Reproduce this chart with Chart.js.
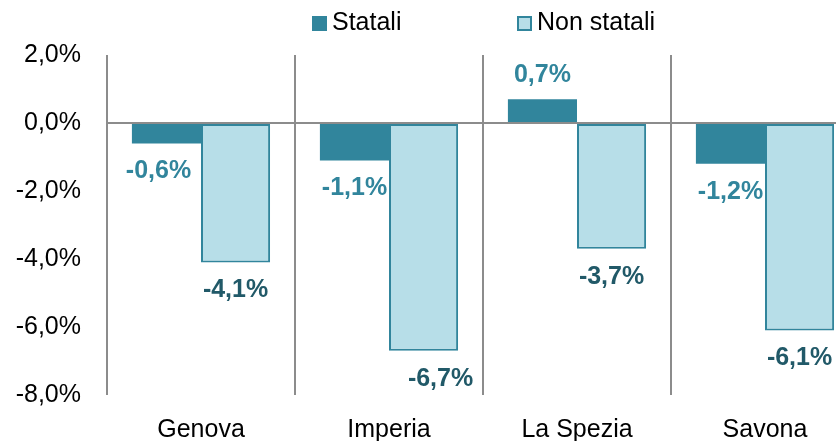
<!DOCTYPE html>
<html><head><meta charset="utf-8">
<script src="https://cdn.jsdelivr.net/npm/chart.js@4"></script>
<style>
html,body{margin:0;padding:0;overflow:hidden;background:#fff;width:836px;height:441px}
#wrap{position:relative;width:870px;height:441px}
</style></head>
<body><div id="wrap"><canvas id="c" width="870" height="441"></canvas></div>
<script>
const categories = ['Genova', 'Imperia', 'La Spezia', 'Savona'];
const seriesNames = ['Statali', 'Non statali'];
const statali = [-0.6, -1.1, 0.7, -1.2];
const nonStatali = [-4.1, -6.7, -3.7, -6.1];
const yTicks = [2, 0, -2, -4, -6, -8];

const FAMILY = '"Liberation Sans", Arial, Helvetica, sans-serif';
const fmt = v => (Math.abs(v) < 1e-9 ? 0 : v).toFixed(1).replace('.', ',') + '%';

const labelPlugin = {
  id: 'barLabels',
  afterDatasetsDraw(chart, args, opts) {
    const ctx = chart.ctx;
    chart.data.datasets.forEach((ds, di) => {
      const meta = chart.getDatasetMeta(di);
      meta.data.forEach((bar, i) => {
        const v = ds.data[i];
        const dx = (opts.dx[di] && opts.dx[di][i]) || 0;
        const y = v >= 0 ? bar.y - opts.offsetUp : bar.y + opts.offsetDown;
        ctx.save();
        ctx.font = 'bold 25px ' + FAMILY;
        ctx.fillStyle = opts.colors[di];
        ctx.textAlign = 'center';
        ctx.textBaseline = 'middle';
        ctx.fillText(fmt(v), bar.x + dx, y);
        ctx.restore();
      });
    });
  }
};

const legendPlugin = {
  id: 'customLegend',
  afterDraw(chart, args, opts) {
    const ctx = chart.ctx;
    chart.data.datasets.forEach((ds, di) => {
      const x = opts.startX[di];
      ctx.save();
      ctx.fillStyle = ds.backgroundColor;
      ctx.fillRect(x, opts.boxTop, opts.boxSize, opts.boxSize);
      if (ds.borderWidth) {
        ctx.strokeStyle = ds.borderColor;
        ctx.lineWidth = 2;
        ctx.strokeRect(x + 1, opts.boxTop + 1, opts.boxSize - 2, opts.boxSize - 2);
      }
      ctx.fillStyle = '#000';
      ctx.font = '25px ' + FAMILY;
      ctx.textAlign = 'left';
      ctx.textBaseline = 'middle';
      ctx.fillText(ds.label, x + opts.boxSize + 5, opts.textY);
      ctx.restore();
    });
  }
};

Chart.defaults.font.family = FAMILY;

new Chart(document.getElementById('c'), {
  type: 'bar',
  data: {
    labels: categories,
    datasets: [
      { label: seriesNames[0], data: statali, backgroundColor: '#31859C', borderWidth: 0 },
      { label: seriesNames[1], data: nonStatali, backgroundColor: '#B7DEE8', borderColor: '#31859C', borderWidth: 2, borderSkipped: false }
    ]
  },
  options: {
    responsive: false,
    animation: false,
    layout: { padding: { top: 55, right: 11, bottom: 0, left: 0 } },
    datasets: { bar: { categoryPercentage: 0.735, barPercentage: 1 } },
    plugins: {
      legend: { display: false },
      tooltip: { enabled: false },
      barLabels: {
        colors: ['#31859C', '#215968'],
        offsetUp: 24,
        offsetDown: 28,
        dx: [[-8, 0, 0, 0], [0, 17, 0, 0]]
      },
      customLegend: { startX: [312, 517], boxTop: 16, boxSize: 15, textY: 23 }
    },
    scales: {
      x: {
        grid: { offset: true, color: '#8c8c8c', lineWidth: 2, drawTicks: false },
        border: { display: false },
        ticks: { font: { size: 25 }, color: '#000', padding: 20, maxRotation: 0, autoSkip: false },
        afterFit(s) { s.height = 46; }
      },
      y: {
        min: -8, max: 2,
        z: 1,
        afterBuildTicks(s) { s.ticks = yTicks.map(v => ({ value: v })); },
        ticks: { callback: v => fmt(v), font: { size: 25 }, color: '#000', padding: 26 },
        grid: {
          drawTicks: false,
          lineWidth: 2,
          color: c => (c.tick && c.tick.value === 0) ? '#8c8c8c' : 'rgba(0,0,0,0)'
        },
        border: { display: false },
        afterFit(s) { s.width = 107; }
      }
    }
  },
  plugins: [labelPlugin, legendPlugin]
});
</script>
</body></html>
